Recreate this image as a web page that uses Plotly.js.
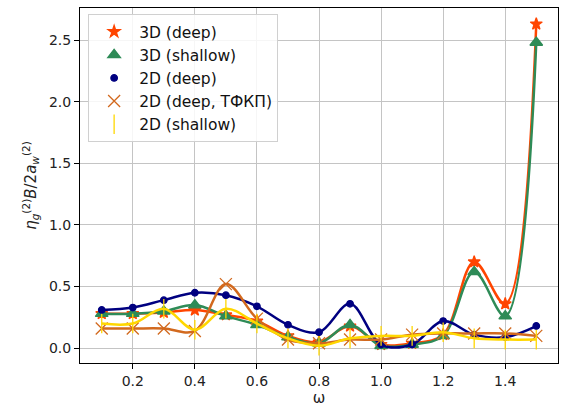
<!DOCTYPE html>
<html>
<head>
<meta charset="utf-8">
<script src="https://cdn.plot.ly/plotly-3.0.1.min.js"></script>
<style>html,body{margin:0;padding:0;background:#fff;}#chart{width:561px;height:410px;}</style>
</head>
<body>
<div id="chart"></div>
<script>
const omega = [0.1, 0.2, 0.3, 0.4, 0.5, 0.6, 0.7, 0.8, 0.9, 1.0, 1.1, 1.2, 1.3, 1.4, 1.5];
const deep3D    = [0.28, 0.28, 0.29, 0.31, 0.27, 0.22, 0.10, 0.05, 0.18, 0.03, 0.04, 0.11, 0.70, 0.36, 2.63];
const shallow3D = [0.28, 0.28, 0.30, 0.35, 0.26, 0.19, 0.09, 0.04, 0.19, 0.02, 0.03, 0.10, 0.62, 0.26, 2.48];
const deep2D    = [0.31, 0.33, 0.39, 0.45, 0.43, 0.34, 0.19, 0.13, 0.36, 0.03, 0.03, 0.22, 0.11, 0.09, 0.18];
const deep2DTFKP = [0.16, 0.16, 0.16, 0.14, 0.52, 0.24, 0.07, 0.04, 0.07, 0.07, 0.11, 0.12, 0.12, 0.12, 0.10];
const shallow2D = [0.20, 0.20, 0.32, 0.15, 0.32, 0.20, 0.08, 0.02, 0.08, 0.10, 0.10, 0.13, 0.08, 0.07, 0.07];
const seriesNames = ['3D (deep)', '3D (shallow)', '2D (deep)', '2D (deep, ТФКП)', '2D (shallow)'];
const seriesData = [deep3D, shallow3D, deep2D, deep2DTFKP, shallow2D];

const colors = ['#ff4500', '#2e8b57', '#000080', '#d2691e', '#ffd700'];
const symbols = ['star', 'triangle-up', 'circle', 'x-thin-open', 'line-ns-open'];
const sizes = [9, 11, 6.5, 12, 14];

const traces = [];
seriesData.forEach((ys, i) => {
  traces.push({
    x: omega, y: ys, type: 'scatter', mode: 'lines',
    line: {color: colors[i], width: 2.5, shape: 'spline', smoothing: 1},
    showlegend: false, hoverinfo: 'skip', legendgroup: 'g' + i
  });
  traces.push({
    x: omega, y: ys, type: 'scatter', mode: 'markers', name: seriesNames[i],
    legendgroup: 'g' + i,
    marker: {color: colors[i], symbol: symbols[i], size: sizes[i],
             line: {color: colors[i], width: 1.3}}
  });
});

const layout = {
  width: 561, height: 410,
  margin: {l: 80, r: 3, t: 8, b: 47},
  paper_bgcolor: '#fff', plot_bgcolor: '#fff',
  font: {family: 'DejaVu Sans, sans-serif', size: 14, color: '#222'},
  xaxis: {
    range: [0.03, 1.57], tickvals: [0.2, 0.4, 0.6, 0.8, 1.0, 1.2, 1.4],
    tickformat: '.1f', showgrid: true, gridcolor: '#c4c4c4', gridwidth: 1,
    zeroline: false, showline: true, mirror: true, linecolor: '#000', linewidth: 1,
    ticks: 'outside', ticklen: 5, tickcolor: '#000',
    title: {text: 'ω', font: {size: 15}, standoff: 4}
  },
  yaxis: {
    range: [-0.12, 2.76], tickvals: [0, 0.5, 1.0, 1.5, 2.0, 2.5],
    tickformat: '.1f', showgrid: true, gridcolor: '#c4c4c4', gridwidth: 1,
    zeroline: false, showline: true, mirror: true, linecolor: '#000', linewidth: 1,
    ticks: 'outside', ticklen: 5, tickcolor: '#000',
    title: {text: '<i>η</i><sub><i>g</i></sub><sup>(2)</sup><i>B</i>/2<i>a</i><sub><i>w</i></sub><sup>(2)</sup>', font: {size: 15}, standoff: 8}
  },
  legend: {
    x: 0.017, y: 0.983, xanchor: 'left', yanchor: 'top',
    bgcolor: 'rgba(255,255,255,0.85)', bordercolor: '#d0d0d0', borderwidth: 1,
    font: {size: 15.5, color: '#111'}, tracegroupgap: 0, traceorder: 'grouped',
    itemwidth: 40
  },
  showlegend: true
};

Plotly.newPlot('chart', traces, layout, {displayModeBar: false, staticPlot: true});
</script>
</body>
</html>
